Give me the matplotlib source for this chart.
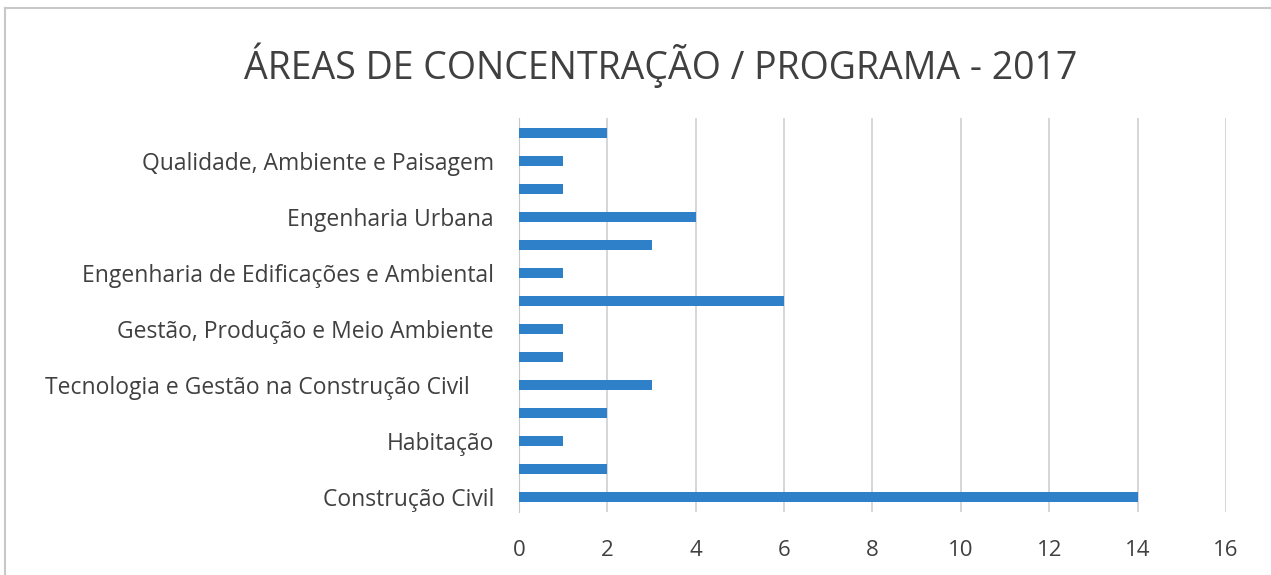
import matplotlib
matplotlib.use("Agg")
import matplotlib.pyplot as plt
from matplotlib.lines import Line2D

# Daten (von unten nach oben)
programas = [
    "Construção Civil", "",
    "Habitação", "",
    "Tecnologia e Gestão na Construção Civil    ", "",
    "Gestão, Produção e Meio Ambiente", "",
    "Engenharia de Edificações e Ambiental", "",
    "Engenharia Urbana", "",
    "Qualidade, Ambiente e Paisagem", "",
]
valores = [14, 2, 1, 2, 3, 1, 1, 6, 1, 3, 4, 1, 1, 2]
x_ticks = [0, 2, 4, 6, 8, 10, 12, 14, 16]

titel = "ÁREAS DE CONCENTRAÇÃO / PROGRAMA - 2017"
farbe = "#2E80C9"
textfarbe = "#404040"

plt.rcParams["font.family"] = ["Open Sans", "DejaVu Sans"]

fig = plt.figure(figsize=(12.71, 5.75), dpi=100)
ax = fig.add_axes([0.4083, 0.1096, 0.5563, 0.6852])

pos = list(range(len(valores)))
ax.barh(pos, valores, height=0.35, color=farbe, zorder=3)

ax.set_xlim(0, 16)
ax.set_ylim(-0.54, len(valores) - 0.46)
ax.set_xticks(x_ticks)
ax.set_xticklabels([str(t) for t in x_ticks], fontsize=16, color=textfarbe)
ax.set_yticks(pos)
ax.set_yticklabels(programas, fontsize=16.5, color=textfarbe)
ax.tick_params(axis="both", length=0)
ax.tick_params(axis="x", pad=20)
ax.tick_params(axis="y", pad=18)

ax.grid(axis="x", color="#D0D0D0", linewidth=1.2, zorder=0)
for s in ["top", "right", "bottom"]:
    ax.spines[s].set_visible(False)
ax.spines["left"].set_color("#C8C8C8")

fig.text(0.52, 0.887, titel, ha="center", va="center", fontsize=27, color=textfarbe)

# Rahmen links und oben
fig.add_artist(Line2D([0.004, 0.004], [0.0, 0.986], color="#C8C8C8", linewidth=1.5,
                      transform=fig.transFigure))
fig.add_artist(Line2D([0.004, 1.0], [0.986, 0.986], color="#C8C8C8", linewidth=1.5,
                      transform=fig.transFigure))

fig.savefig("out.png", dpi=100)
